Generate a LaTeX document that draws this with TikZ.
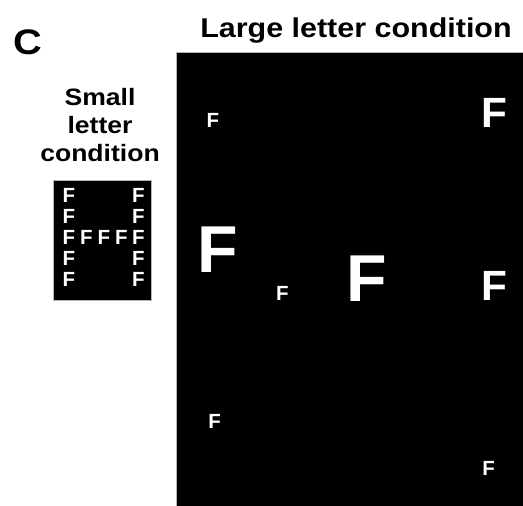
\documentclass[tikz,border=0pt]{standalone}
\usepackage{fontspec}
\setmainfont{Liberation Sans}
\newfontfamily\titlefont[FakeStretch=1.12]{Liberation Sans}
\usetikzlibrary{positioning}
\newcommand{\fsize}[2][1.1]{\fontsize{#2}{#1\dimexpr#2pt\relax}\selectfont\bfseries}

\begin{document}
\begin{tikzpicture}[
        x=1pt, y=-1pt,
        panel/.style={fill=black, draw=gray!60, line width=0.6pt},
        title/.style={inner sep=0pt, anchor=base, align=center},
        letter/.style={text=white, inner sep=0pt, anchor=base},
        tiny/.style={letter, font=\fsize{20.5}},
        mid/.style={letter, font=\fsize{42.3}},
        huge/.style={letter, font=\fsize{66.3}},
    ]
        \useasboundingbox (0,0) rectangle (523,506);

        % Panel label and headings
        \node[title, font=\titlefont\fsize{35.5}] (lbl) at (27.5,54.5) {C};
        \node[title, font=\titlefont\fsize{27.2}] (bigtitle) at (356,37.5) {Large letter condition};
        \node[title, anchor=north, font=\titlefont\fontsize{23.7}{28}\selectfont\bfseries] (smalltitle) at (100,88) {Small\\letter\\condition};

        % Small letter condition: an H made of small Fs
        \draw[panel] (53.3,180.5) rectangle (151.7,300.5);
        \foreach \row [count=\i] in {202,223,244,265,286} {
            \node[tiny] (sl\i) at (69,\row) {F};
            \node[tiny] (sr\i) at (138.5,\row) {F};
        }
        \foreach \col [count=\j] in {86.5,104,121.5}
            \node[tiny] (sm\j) at (\col,244) {F};

        % Large letter condition: scattered Fs of three sizes
        \draw[panel] (176,52) rectangle (524,507);
        \node[tiny] (lf1) at (213,127.7) {F};
        \node[mid]  (lf2) at (494.8,127.7) {F};
        \node[huge] (lf3) at (217.5,272.3) {F};
        \node[tiny] (lf4) at (282.5,300.3) {F};
        \node[huge] (lf5) at (367,301) {F};
        \node[mid]  (lf6) at (494.8,300.7) {F};
        \node[tiny] (lf7) at (214.7,428.3) {F};
        \node[tiny] (lf8) at (488.7,475) {F};
    \end{tikzpicture}
\end{document}
